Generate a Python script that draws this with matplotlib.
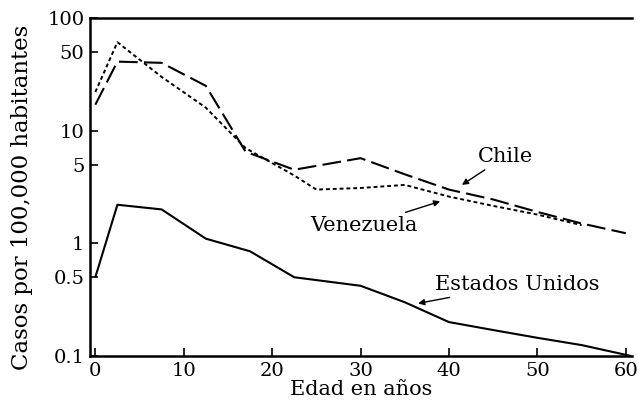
import matplotlib as mpl
import matplotlib.pyplot as plt
from matplotlib.ticker import FixedLocator, NullLocator

mpl.rcParams["font.family"] = "DejaVu Serif"

# edad (años) y casos por 100,000 habitantes
edad_eu = [0, 2.5, 7.5, 12.5, 17.5, 22.5, 30, 35, 40, 45, 50, 55, 60.6]
casos_eu = [0.5, 2.2, 2.0, 1.1, 0.85, 0.5, 0.42, 0.3, 0.2, 0.17, 0.145, 0.125, 0.1]

edad_chile = [0, 2.5, 7.5, 12.5, 17, 22.5, 30, 35, 40, 45, 50, 55, 60]
casos_chile = [17, 41, 40, 25, 6.5, 4.5, 5.7, 4.1, 3.0, 2.45, 1.9, 1.5, 1.23]

edad_vzla = [0, 2.5, 7.5, 12.5, 17, 22.5, 25, 30, 35, 40, 45, 50, 55]
casos_vzla = [22, 61, 30, 16, 7.0, 4.0, 3.0, 3.1, 3.3, 2.6, 2.15, 1.8, 1.45]

yticks = [0.1, 0.5, 1, 5, 10, 50, 100]
ytick_labels = ["0.1", "0.5", "1", "5", "10", "50", "100"]
xticks = [0, 10, 20, 30, 40, 50, 60]

fig = plt.figure(figsize=(6.38, 4.04), dpi=100)
ax = fig.add_axes([90 / 638, 48 / 404, 542 / 638, 338 / 404])

ax.plot(edad_eu, casos_eu, color="k", lw=1.5, solid_capstyle="butt")
ax.plot(edad_chile, casos_chile, color="k", lw=1.5, dashes=(9, 3))
ax.plot(edad_vzla, casos_vzla, color="k", lw=1.4, dashes=(2, 1.5))

ax.set_yscale("log")
ax.set_xlim(-0.6, 60.7)
ax.set_ylim(0.1, 100)
ax.yaxis.set_major_locator(FixedLocator(yticks))
ax.yaxis.set_minor_locator(NullLocator())
ax.set_yticklabels(ytick_labels)
ax.set_xticks(xticks)

ax.tick_params(direction="in", length=6, width=1.2, labelsize=14, pad=4)
ax.spines["right"].set_visible(False)
for s in ["left", "top", "bottom"]:
    ax.spines[s].set_linewidth(1.8)

ax.set_xlabel("Edad en años", fontsize=15, labelpad=0)
ax.set_ylabel("Casos por 100,000 habitantes", fontsize=16.5)
ax.yaxis.set_label_coords(-0.106, 0.47)

arrow = dict(arrowstyle="-|>", color="k", lw=1.0, mutation_scale=9)
ax.annotate("Chile", xy=(41.2, 3.2), xytext=(43.3, 4.9),
            fontsize=15, ha="left", va="bottom", arrowprops=arrow)
ax.annotate("Venezuela", xy=(39.3, 2.4), xytext=(36.5, 1.44),
            fontsize=15, ha="right", va="center", arrowprops=arrow)
ax.annotate("Estados Unidos", xy=(36.2, 0.29), xytext=(38.4, 0.43),
            fontsize=15, ha="left", va="center", arrowprops=arrow)

fig.savefig("out.png", dpi=100)
